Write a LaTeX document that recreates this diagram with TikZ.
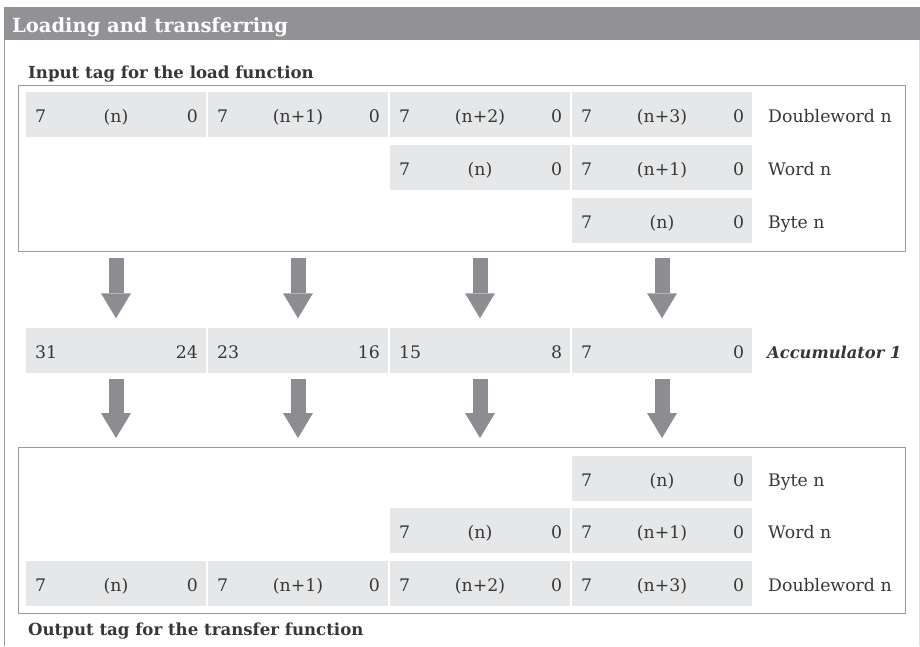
\documentclass[tikz,border=0pt]{standalone}
\usepackage{fontspec}
\setmainfont{DejaVu Serif}
\usetikzlibrary{arrows.meta}

\definecolor{barGray}{RGB}{145,145,150}
\definecolor{cellGray}{RGB}{230,231,233}
\definecolor{arrowGray}{RGB}{140,140,145}
\definecolor{lineGray}{RGB}{155,155,155}
\definecolor{frameGray}{RGB}{225,225,228}
\definecolor{textGray}{RGB}{55,55,55}

% one byte cell: name, x, y, high bit, byte, low bit
\newcommand{\bitcell}[6]{%
  \node[cell] (#1) at (#2,#3) {#5};
  \node[hibit] (#1h) at (#1.west) {#4};
  \node[lobit] (#1l) at (#1.east) {#6};
}

\begin{document}
\begin{tikzpicture}[x=1pt, y=-1pt, text=textGray,
  font=\fontsize{17.3}{20}\selectfont,
  cell/.style={fill=cellGray, minimum width=180pt, minimum height=45pt,
    inner sep=0pt, text height=16pt, text depth=0pt},
  hibit/.style={anchor=west, inner xsep=9pt, inner ysep=0pt, text height=16pt, text depth=0pt},
  lobit/.style={anchor=east, inner xsep=8pt, inner ysep=0pt, text height=16pt, text depth=0pt},
  rowlabel/.style={anchor=west, inner sep=0pt, text height=16pt, text depth=0pt},
  tagbox/.style={draw=lineGray, line width=1pt, minimum width=887pt,
    minimum height=166pt, inner sep=0pt},
  heading/.style={anchor=base west, inner sep=0pt, font=\fontsize{16.6}{20}\selectfont\bfseries},
  loadarrow/.style={draw=arrowGray, line width=15pt,
    -{Triangle[length=25pt, width=30pt, line width=0pt]},
    shorten <=6pt, shorten >=9pt}]
  \useasboundingbox (0,0) rectangle (920,646);

  % frame and title bar
  \fill[barGray] (4,7) rectangle (920,40);
  \draw[lineGray] (4.5,40) -- (4.5,646);
  \draw[frameGray] (919,40) -- (919,646);
  \node[anchor=base west, inner sep=0pt, text=white,
    font=\fontsize{19.5}{22}\selectfont\bfseries] (title) at (12,32) {Loading and transferring};

  % input tag
  \node[heading] (inhead) at (28,78) {Input tag for the load function};
  \node[tagbox] (inbox) at (461.5,168) {};
  \foreach \i/\lab [evaluate=\i as \x using 116+182*\i] in {0/{(n)},1/{(n+1)},2/{(n+2)},3/{(n+3)}}
    {\bitcell{inD\i}{\x}{114.5}{7}{\lab}{0}}
  \bitcell{inW2}{480}{167.5}{7}{(n)}{0}
  \bitcell{inW3}{662}{167.5}{7}{(n+1)}{0}
  \bitcell{inB3}{662}{220.5}{7}{(n)}{0}
  \node[rowlabel] (inDlab) at (768,114.5) {Doubleword n};
  \node[rowlabel] (inWlab) at (768,167.5) {Word n};
  \node[rowlabel] (inBlab) at (768,220.5) {Byte n};

  % accumulator
  \foreach \i/\hi/\lo [evaluate=\i as \x using 116+182*\i] in {0/31/24,1/23/16,2/15/8,3/7/0}
    {\bitcell{acc\i}{\x}{350}{\hi}{}{\lo}}
  \node[rowlabel, font=\fontsize{16.3}{20}\selectfont\bfseries\itshape] (acclab) at (767,350) {Accumulator 1};

  % output tag
  \node[tagbox] (outbox) at (461.5,530.5) {};
  \bitcell{outB3}{662}{478}{7}{(n)}{0}
  \bitcell{outW2}{480}{530.5}{7}{(n)}{0}
  \bitcell{outW3}{662}{530.5}{7}{(n+1)}{0}
  \foreach \i/\lab [evaluate=\i as \x using 116+182*\i] in {0/{(n)},1/{(n+1)},2/{(n+2)},3/{(n+3)}}
    {\bitcell{outD\i}{\x}{583.5}{7}{\lab}{0}}
  \node[rowlabel] (outBlab) at (768,478) {Byte n};
  \node[rowlabel] (outWlab) at (768,530.5) {Word n};
  \node[rowlabel] (outDlab) at (768,583.5) {Doubleword n};
  \node[heading] (outhead) at (28,635) {Output tag for the transfer function};

  % load and transfer arrows
  \foreach \i in {0,...,3} {
    \draw[loadarrow] (inbox.south -| acc\i) -- (acc\i.north);
    \draw[loadarrow] (acc\i.south) -- (outbox.north -| acc\i);
  }
\end{tikzpicture}
\end{document}
